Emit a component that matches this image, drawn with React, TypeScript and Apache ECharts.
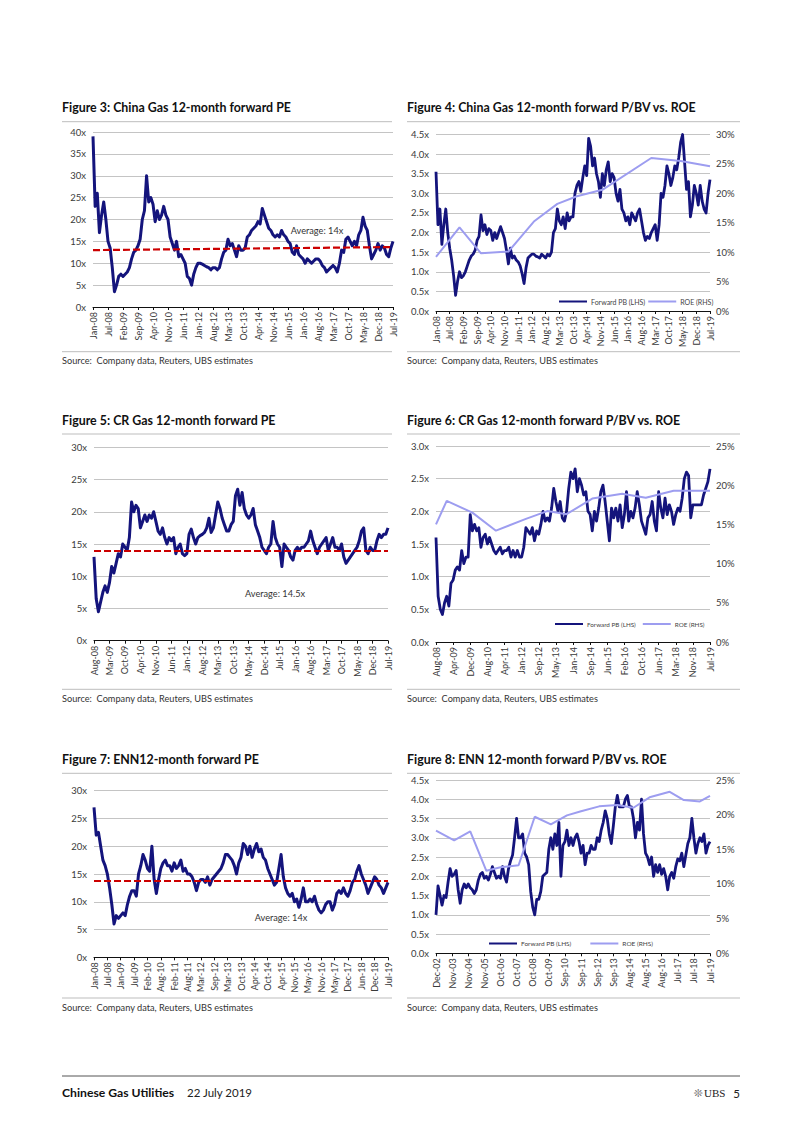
import React, { useEffect, useRef } from 'react';
import * as echarts from 'echarts';

// ---------- Data ----------
const C1_LABELS = ['Jan-08','Jul-08','Feb-09','Sep-09','Apr-10','Nov-10','Jun-11','Jan-12','Aug-12','Mar-13','Oct-13','Apr-14','Nov-14','Jun-15','Jan-16','Aug-16','Mar-17','Oct-17','May-18','Dec-18','Jul-19'];
const C1_PE = [
  39, 23, 26, 17, 21, 24, 20,
  15, 13.5, 9, 3.5, 5, 7, 7.5,
  7, 7.5, 8, 9, 11, 12.5, 13,
  14, 15.5, 20, 22, 30, 24, 25,
  23.5, 19.5, 22, 20, 21, 23, 21,
  20, 16, 14.5, 13, 15, 11.5, 12,
  11, 10, 7, 6.5, 5, 7.5, 9,
  10, 10, 9.8, 9.5, 9.2, 9, 8.5,
  9, 9, 8.5, 9, 11, 12.5, 13,
  15.5, 14, 14.5, 13, 11.5, 14, 13,
  13, 13.5, 16, 16.5, 17.5, 18, 18.5,
  19.5, 19, 22.5, 21, 19.5, 18, 17.5,
  16.5, 16, 16.5, 16, 17.5, 16.5, 16,
  15, 14.5, 12.5, 12, 14, 12, 11.5,
  11, 10, 11, 10.5, 10, 10.5, 11,
  11, 10.5, 9.5, 9, 8, 8.5, 9,
  9.5, 9, 8, 10, 13, 12.5, 15.5,
  16, 15, 14, 15, 14, 16.5, 17.5,
  20.5, 18.5, 17.5, 14, 11, 12, 13,
  14.5, 13, 14, 13.5, 12, 11.5, 13.5,
  15,
];
const C1_AVG = [13.0, 13.7];

const C2_LABELS = C1_LABELS;
const C2_PB = [
  3.55, 2.2, 2.6, 1.7, 2.2, 2.6, 2.0,
  1.6, 1.3, 0.9, 0.4, 0.75, 1.0, 0.85,
  0.9, 1.0, 1.15, 1.3, 1.4, 1.45, 1.55,
  1.8, 1.9, 2.45, 2.05, 2.2, 1.95, 2.1,
  2.05, 1.8, 2.0, 1.85, 2.0, 2.15, 2.0,
  1.85, 1.55, 1.2, 1.6, 1.35, 1.4, 1.3,
  1.25, 1.15, 0.95, 0.7, 1.1, 1.35, 1.4,
  1.45, 1.45, 1.4, 1.38, 1.35, 1.45, 1.4,
  1.35, 1.45, 1.4, 1.5, 2.0, 2.1, 2.6,
  2.3, 2.2, 2.4, 2.1, 2.5, 2.3, 2.4,
  2.4, 3.0, 3.2, 3.3, 3.05, 3.4, 3.7,
  3.45, 4.4, 4.2, 3.7, 3.9, 3.5, 3.3,
  2.9, 3.5, 3.2, 3.6, 3.8, 3.3, 3.5,
  3.4, 3.0, 2.8, 3.1, 2.6, 2.5, 2.3,
  2.4, 2.2, 2.5, 2.4, 2.3, 2.5, 2.6,
  2.3, 2.0, 1.8, 1.9, 1.85, 2.0, 2.1,
  2.2, 1.8, 2.2, 3.0, 2.9, 3.2, 3.7,
  3.5, 3.2, 3.4, 3.7, 3.6, 3.9, 4.3,
  4.5, 3.8, 3.1, 3.3, 2.4, 2.7, 3.2,
  3.0, 2.7, 3.2, 2.8, 2.6, 2.5, 3.0,
  3.35,
];
const C2_ROE_IDX = [0, 12, 23, 37, 50, 62, 72, 85, 110, 125, 140];
const C2_ROE = [9.2, 14.2, 9.8, 10.1, 15.2, 18.2, 19.5, 20.6, 26.0, 25.5, 24.6];

const C3_LABELS = ['Aug-08','Mar-09','Oct-09','Apr-10','Nov-10','Jun-11','Jan-12','Aug-12','Mar-13','Oct-13','May-14','Dec-14','Jul-15','Jan-16','Aug-16','Mar-17','Oct-17','May-18','Dec-18','Jul-19'];
const C3_PE = [
  13, 6.5, 4.5, 6, 7.5, 8.5, 7.5,
  9, 11.5, 10.5, 12, 13.5, 13, 15,
  14.5, 14, 16, 21.5, 20, 21, 20.5,
  17.5, 18.5, 19.5, 18.5, 19.5, 19, 20,
  18.5, 17, 16.5, 17.5, 16, 15, 16,
  15.5, 16, 13.5, 14.5, 15, 13.5, 13.2,
  13.5, 16.5, 17.3, 16, 15, 16, 16.3,
  16.5, 16.8, 17.5, 19, 16.8, 17.5, 19.5,
  21.5, 20.5, 19, 18, 17, 17, 18,
  18.5, 22.5, 23.5, 21, 23, 20.5, 19.5,
  19, 19.5, 20.5, 18, 17, 16, 14.5,
  14, 13.5, 14.5, 15, 18.5, 16, 15,
  14.5, 11.5, 15, 14.5, 14, 13, 12.5,
  14, 14.5, 14, 14.5, 14.5, 15, 15.5,
  17, 15.5, 14.5, 13.5, 14.5, 15, 15.5,
  16, 14, 15, 16, 14.5, 14.5, 14,
  15, 13, 12, 12.5, 13, 13.5, 14,
  14.5, 15.5, 17, 17.5, 14, 13.5, 14.5,
  14, 14, 15.5, 16.5, 16, 16.5, 16.5,
  17.5,
];
const C3_AVG = [14.0, 14.0];

const C4_LABELS = ['Aug-08','Apr-09','Dec-09','Aug-10','Apr-11','Jan-12','Sep-12','May-13','Jan-14','Sep-14','Jun-15','Feb-16','Oct-16','Jun-17','Mar-18','Nov-18','Jul-19'];
const C4_PB = [
  1.6, 0.7, 0.5, 0.42, 0.6, 0.7, 0.55, 0.9,
  0.95, 1.1, 1.15, 1.1, 1.4, 1.2, 1.3, 1.3,
  1.95, 1.7, 1.8, 1.7, 1.75, 1.45, 1.6, 1.65,
  1.5, 1.6, 1.5, 1.4, 1.35, 1.4, 1.45, 1.35,
  1.4, 1.4, 1.45, 1.3, 1.4, 1.3, 1.4, 1.3,
  1.3, 1.45, 1.75, 1.7, 1.65, 1.75, 1.55, 1.7,
  1.65, 1.8, 2.0, 1.85, 1.9, 1.85, 2.05, 2.35,
  2.15, 2.0, 2.15, 1.9, 1.85, 2.0, 2.35, 2.6,
  2.5, 2.65, 2.3, 2.5, 2.4, 2.25, 2.3, 2.0,
  1.95, 1.7, 2.0, 1.85, 2.05, 2.3, 2.4, 2.15,
  1.85, 1.55, 2.05, 1.9, 2.05, 1.85, 2.1, 1.75,
  1.95, 2.3, 1.85, 2.0, 1.9, 2.05, 2.3, 2.1,
  1.85, 1.75, 1.65, 1.9, 1.95, 2.15, 1.85, 1.7,
  2.3, 2.05, 1.9, 2.2, 1.95, 2.1, 2.0, 1.8,
  1.95, 2.05, 2.0, 2.2, 2.5, 2.6, 2.55, 1.9,
  2.1, 2.1, 2.1, 2.1, 2.1, 2.25, 2.35, 2.45,
  2.65,
];
const C4_ROE_IDX = [0, 5, 17, 28, 42, 52, 61, 73, 87, 98, 111, 128];
const C4_ROE = [15.0, 18.0, 16.5, 14.2, 15.7, 16.7, 16.3, 18.3, 18.9, 18.4, 19.3, 19.3];

const C5_LABELS = ['Jan-08','Jul-08','Jan-09','Jul-09','Feb-10','Aug-10','Feb-11','Aug-11','Mar-12','Sep-12','Mar-13','Oct-13','Apr-14','Oct-14','Apr-15','Nov-15','May-16','Nov-16','May-17','Dec-17','Jun-18','Dec-18','Jul-19'];
const C5_PE = [
  27, 22, 22.5, 20, 17.5, 16.5,
  15, 12.5, 9.5, 6, 7.5, 7,
  7.5, 8, 7.5, 9.5, 11, 12,
  12, 11, 15, 16.5, 18.5, 17.5,
  16, 15.5, 20, 14, 11.5, 14,
  16, 17, 17.5, 16.5, 16.5, 15.5,
  17, 16, 16.5, 17.5, 15.5, 16,
  15, 15, 14.5, 13.5, 12, 13.5,
  14, 14, 13.5, 14.5, 13, 14,
  14.5, 15, 15.5, 16, 17, 18.5,
  18.5, 18, 17.5, 16.5, 15, 17,
  18, 20.5, 20, 18.5, 20, 18,
  19.5, 20.5, 19, 19.5, 18, 17.5,
  16, 15, 14, 13, 13.5, 16,
  18.5, 14.5, 12.5, 11.5, 11, 11.5,
  10, 10.5, 9, 10.5, 12.5, 10,
  10, 10.5, 10, 11, 9.5, 8.5,
  8, 8.5, 9.5, 10, 10, 8.5,
  9.5, 11.5, 12, 11.5, 12.5, 11.5,
  11, 12, 13.5, 14, 15.5, 16.5,
  15, 14, 13, 11.5, 12.5, 13.5,
  14.5, 14, 13, 12.5, 11.5, 12.5,
  13.5,
];
const C5_AVG = [13.7, 13.7];

const C6_LABELS = ['Dec-02','Nov-03','Nov-04','Nov-05','Oct-06','Oct-07','Oct-08','Oct-09','Sep-10','Sep-11','Sep-12','Sep-13','Aug-14','Aug-15','Aug-16','Jul-17','Jul-18','Jul-19'];
const C6_PB = [
  1.0, 1.75, 1.5, 1.25, 1.5, 1.45, 1.85, 2.2,
  2.0, 2.05, 2.15, 1.65, 1.3, 1.65, 1.8, 1.7,
  1.8, 1.7, 1.65, 1.55, 1.65, 1.9, 2.05, 2.1,
  1.95, 2.0, 1.9, 2.05, 2.25, 2.1, 1.95, 2.0,
  1.95, 2.25, 2.0, 1.85, 2.2, 2.4, 2.55, 3.0,
  3.5, 3.0, 3.0, 3.1, 2.6, 2.5, 2.3, 1.6,
  1.2, 1.0, 1.4, 1.4, 1.6, 2.0, 2.05, 2.1,
  2.7, 3.0, 2.7, 3.1, 2.8, 3.4, 2.0, 2.8,
  2.9, 3.2, 2.8, 3.0, 2.8, 3.0, 3.1, 2.9,
  2.6, 2.8, 2.3, 2.6, 2.6, 2.8, 2.7, 2.7,
  3.0, 2.9, 3.2, 3.4, 3.7, 3.5, 3.1, 2.85,
  3.3, 3.8, 4.1, 3.8, 3.8, 3.8, 4.0, 4.1,
  3.8, 3.8, 3.5, 3.0, 3.4, 3.2, 4.0, 3.1,
  2.6, 2.5, 2.3, 2.5, 2.0, 2.3, 2.1, 2.3,
  2.05, 2.2, 2.0, 1.65, 2.0, 2.1, 1.95, 2.25,
  2.45, 2.4, 2.6, 2.25, 2.55, 2.85, 3.0, 3.5,
  3.0, 2.6, 2.85, 3.0, 2.9, 3.1, 2.6, 2.8,
  2.9,
];
const C6_ROE_IDX = [0, 9, 17, 25, 32, 41, 49, 57, 65, 72, 81, 90, 98, 106, 116, 123, 131, 136];
const C6_ROE = [17.7, 16.3, 17.6, 11.9, 12.4, 12.7, 19.7, 18.6, 19.9, 20.5, 21.2, 21.4, 21.0, 22.5, 23.3, 22.1, 21.9, 22.7];

const TITLES = [
  'Figure 3: China Gas 12-month forward PE',
  'Figure 4: China Gas 12-month forward P/BV vs. ROE',
  'Figure 5: CR Gas 12-month forward PE',
  'Figure 6: CR Gas 12-month forward P/BV vs. ROE',
  'Figure 7: ENN12-month forward PE',
  'Figure 8: ENN 12-month forward P/BV vs. ROE',
];
const SOURCE = 'Source:  Company data, Reuters, UBS estimates';
const PB_NAME = 'Forward PB (LHS)';
const ROE_NAME = 'ROE (RHS)';

// ---------- Styles ----------
const FONT = 'Lato';
const NAVY = '#14147c';
const ROE_C = '#9d9df0';
const RED = '#cc0000';
const TXT = '#3a3a3a';
const GRIDC = '#c4c4c4';

function cats(labels: string[], per: number) {
  const out: string[] = [];
  for (let i = 0; i < labels.length - 1; i++) {
    out.push(labels[i]);
    for (let j = 1; j < per; j++) out.push('');
  }
  out.push(labels[labels.length - 1]);
  return out;
}

function xAx(gridIndex: number, labels: string[], per: number) {
  return {
    type: 'category',
    gridIndex,
    data: cats(labels, per),
    boundaryGap: false,
    axisLine: { show: true, lineStyle: { color: '#111', width: 1 } },
    axisTick: { show: true, length: 3, interval: (i: number) => i % per === 0, lineStyle: { color: '#111' } },
    axisLabel: {
      interval: (i: number) => i % per === 0,
      rotate: 90,
      fontSize: 9,
      color: TXT,
      margin: 5,
      fontFamily: FONT,
    },
    splitLine: { show: false },
  };
}

function yAx(gridIndex: number, max: number, interval: number, fmt: (v: number) => string, position = 'left', split = true) {
  return {
    type: 'value',
    gridIndex,
    min: 0,
    max,
    interval,
    position,
    axisLine: { show: false },
    axisTick: { show: false },
    splitLine: { show: split, lineStyle: { color: GRIDC, width: 1 } },
    axisLabel: { formatter: fmt, fontSize: 9.5, color: TXT, margin: position === 'left' ? 7 : 6, fontFamily: FONT },
  };
}

const fx0 = (v: number) => `${v}x`;
const fx1 = (v: number) => `${v.toFixed(1)}x`;
const fpc = (v: number) => `${v}%`;

function pairs(idx: number[], vals: number[]) {
  return idx.map((x, i) => [x, vals[i]]);
}

function avgLine(lastIdx: number, avg: number[]) {
  return {
    symbol: 'none',
    silent: true,
    label: { show: false },
    lineStyle: { color: RED, type: [7, 3], width: 2.2 },
    data: [[{ coord: [0, avg[0]] }, { coord: [lastIdx, avg[1]] }]],
  };
}

function peSeries(xi: number, yi: number, data: number[], avg: number[]) {
  return {
    type: 'line',
    name: 'PE',
    xAxisIndex: xi,
    yAxisIndex: yi,
    data,
    showSymbol: false,
    symbol: 'none',
    lineStyle: { color: NAVY, width: 3, join: 'round' },
    itemStyle: { color: NAVY },
    markLine: avgLine(data.length - 1, avg),
    z: 3,
  };
}

function pbSeries(xi: number, yi: number, data: number[]) {
  return {
    type: 'line',
    name: PB_NAME,
    xAxisIndex: xi,
    yAxisIndex: yi,
    data,
    symbol: 'none',
    lineStyle: { color: NAVY, width: 2.8, join: 'round' },
    itemStyle: { color: NAVY },
    z: 3,
  };
}

function roeSeries(xi: number, yi: number, idx: number[], vals: number[]) {
  return {
    type: 'line',
    name: ROE_NAME,
    xAxisIndex: xi,
    yAxisIndex: yi,
    data: pairs(idx, vals),
    symbol: 'none',
    lineStyle: { color: ROE_C, width: 2 },
    itemStyle: { color: ROE_C },
    z: 4,
  };
}

function legendAt(left: number, top: number, gap: number, size: number) {
  return {
    left,
    top,
    orient: 'horizontal',
    icon: 'rect',
    itemWidth: 28,
    itemHeight: 2,
    itemGap: gap,
    selectedMode: false,
    padding: 0,
    data: [PB_NAME, ROE_NAME],
    textStyle: { fontSize: size, color: '#444', fontFamily: FONT, padding: [0, 0, 0, -1] },
  };
}

function txt(x: number, y: number, text: string, font: string, fill = '#222', align = 'left') {
  return {
    type: 'text',
    x,
    y,
    silent: true,
    style: { text, font, fill, textAlign: align, textVerticalAlign: 'middle', align, verticalAlign: 'middle' },
  };
}

function rule(x1: number, x2: number, y: number, color = '#bdbdbd', w = 1) {
  return { type: 'line', silent: true, shape: { x1, y1: y, x2, y2: y }, style: { stroke: color, lineWidth: w } };
}

const LX = [62, 392];
const RX = [407, 740];
const TITLE_Y = [107.5, 420, 759];
const TRULE_Y = [121.7, 434, 773.3];
const SRULE_Y = [351.7, 689.3, 998];
const SRC_Y = [360, 698, 1007.3];

const graphics: any[] = [];
for (let r = 0; r < 3; r++) {
  graphics.push(txt(LX[0], TITLE_Y[r], TITLES[r * 2], `bold 12.4px ${FONT}`, '#111'));
  graphics.push(txt(RX[0], TITLE_Y[r], TITLES[r * 2 + 1], `bold 12.4px ${FONT}`, '#111'));
  graphics.push(rule(LX[0], LX[1], TRULE_Y[r]));
  graphics.push(rule(RX[0], RX[1], TRULE_Y[r]));
  graphics.push(rule(LX[0], LX[1], SRULE_Y[r]));
  graphics.push(rule(RX[0], RX[1], SRULE_Y[r]));
  graphics.push(txt(LX[0], SRC_Y[r], SOURCE, `9.2px ${FONT}`, '#333'));
  graphics.push(txt(RX[0], SRC_Y[r], SOURCE, `9.2px ${FONT}`, '#333'));
}
graphics.push(txt(317, 230, 'Average: 14x', `9.2px ${FONT}`, '#333', 'center'));
graphics.push(txt(275, 593, 'Average: 14.5x', `9.2px ${FONT}`, '#333', 'center'));
graphics.push(txt(281, 917, 'Average: 14x', `9.2px ${FONT}`, '#333', 'center'));
// footer
graphics.push(rule(62, 740, 1076, '#555', 1));
graphics.push(txt(62, 1092, 'Chinese Gas Utilities', `bold 12.2px ${FONT}`, '#111'));
graphics.push(txt(187, 1092, '22 July 2019', `11.5px ${FONT}`, '#222'));
graphics.push(txt(703, 1093, '❊', `11px DejaVu Sans`, '#666', 'right'));
graphics.push(txt(704, 1093, 'UBS', `11px Liberation Serif`, '#222'));
graphics.push(txt(740, 1093, '5', `11.5px ${FONT}`, '#222', 'right'));

const option: any = {
  animation: false,
  backgroundColor: '#ffffff',
  textStyle: { fontFamily: FONT },
  grid: [
    { left: 93, top: 132, width: 300, height: 175, containLabel: false },
    { left: 436, top: 134.5, width: 274, height: 176.5, containLabel: false },
    { left: 94, top: 447.3, width: 294, height: 193.4, containLabel: false },
    { left: 436, top: 446, width: 274, height: 196, containLabel: false },
    { left: 94, top: 790.7, width: 294, height: 166.6, containLabel: false },
    { left: 436, top: 780, width: 274, height: 173.3, containLabel: false },
  ],
  xAxis: [
    xAx(0, C1_LABELS, 7),
    xAx(1, C2_LABELS, 7),
    xAx(2, C3_LABELS, 7),
    xAx(3, C4_LABELS, 8),
    xAx(4, C5_LABELS, 6),
    xAx(5, C6_LABELS, 8),
  ],
  yAxis: [
    yAx(0, 40, 5, fx0),
    yAx(1, 4.5, 0.5, fx1),
    yAx(1, 30, 5, fpc, 'right', false),
    yAx(2, 30, 5, fx0),
    yAx(3, 3.0, 0.5, fx1),
    yAx(3, 25, 5, fpc, 'right', false),
    yAx(4, 30, 5, fx0),
    yAx(5, 4.5, 0.5, fx1),
    yAx(5, 25, 5, fpc, 'right', false),
  ],
  legend: [
    legendAt(559, 298, 3, 7),
    legendAt(555, 621, 7, 6.3),
    legendAt(489, 940, 19, 6.5),
  ],
  series: [
    peSeries(0, 0, C1_PE, C1_AVG),
    pbSeries(1, 1, C2_PB),
    roeSeries(1, 2, C2_ROE_IDX, C2_ROE),
    peSeries(2, 3, C3_PE, C3_AVG),
    pbSeries(3, 4, C4_PB),
    roeSeries(3, 5, C4_ROE_IDX, C4_ROE),
    peSeries(4, 6, C5_PE, C5_AVG),
    pbSeries(5, 7, C6_PB),
    roeSeries(5, 8, C6_ROE_IDX, C6_ROE),
  ],
  graphic: { elements: graphics },
};

export default function App() {
  const ref = useRef<HTMLDivElement>(null);
  useEffect(() => {
    if (!ref.current) return;
    const chart = echarts.init(ref.current, null, { renderer: 'svg' });
    chart.setOption(option);
    return () => chart.dispose();
  }, []);
  return (
    <div
      ref={ref}
      style={{ position: 'absolute', left: 0, top: 0, width: 802, height: 1133, background: '#fff' }}
    />
  );
}
